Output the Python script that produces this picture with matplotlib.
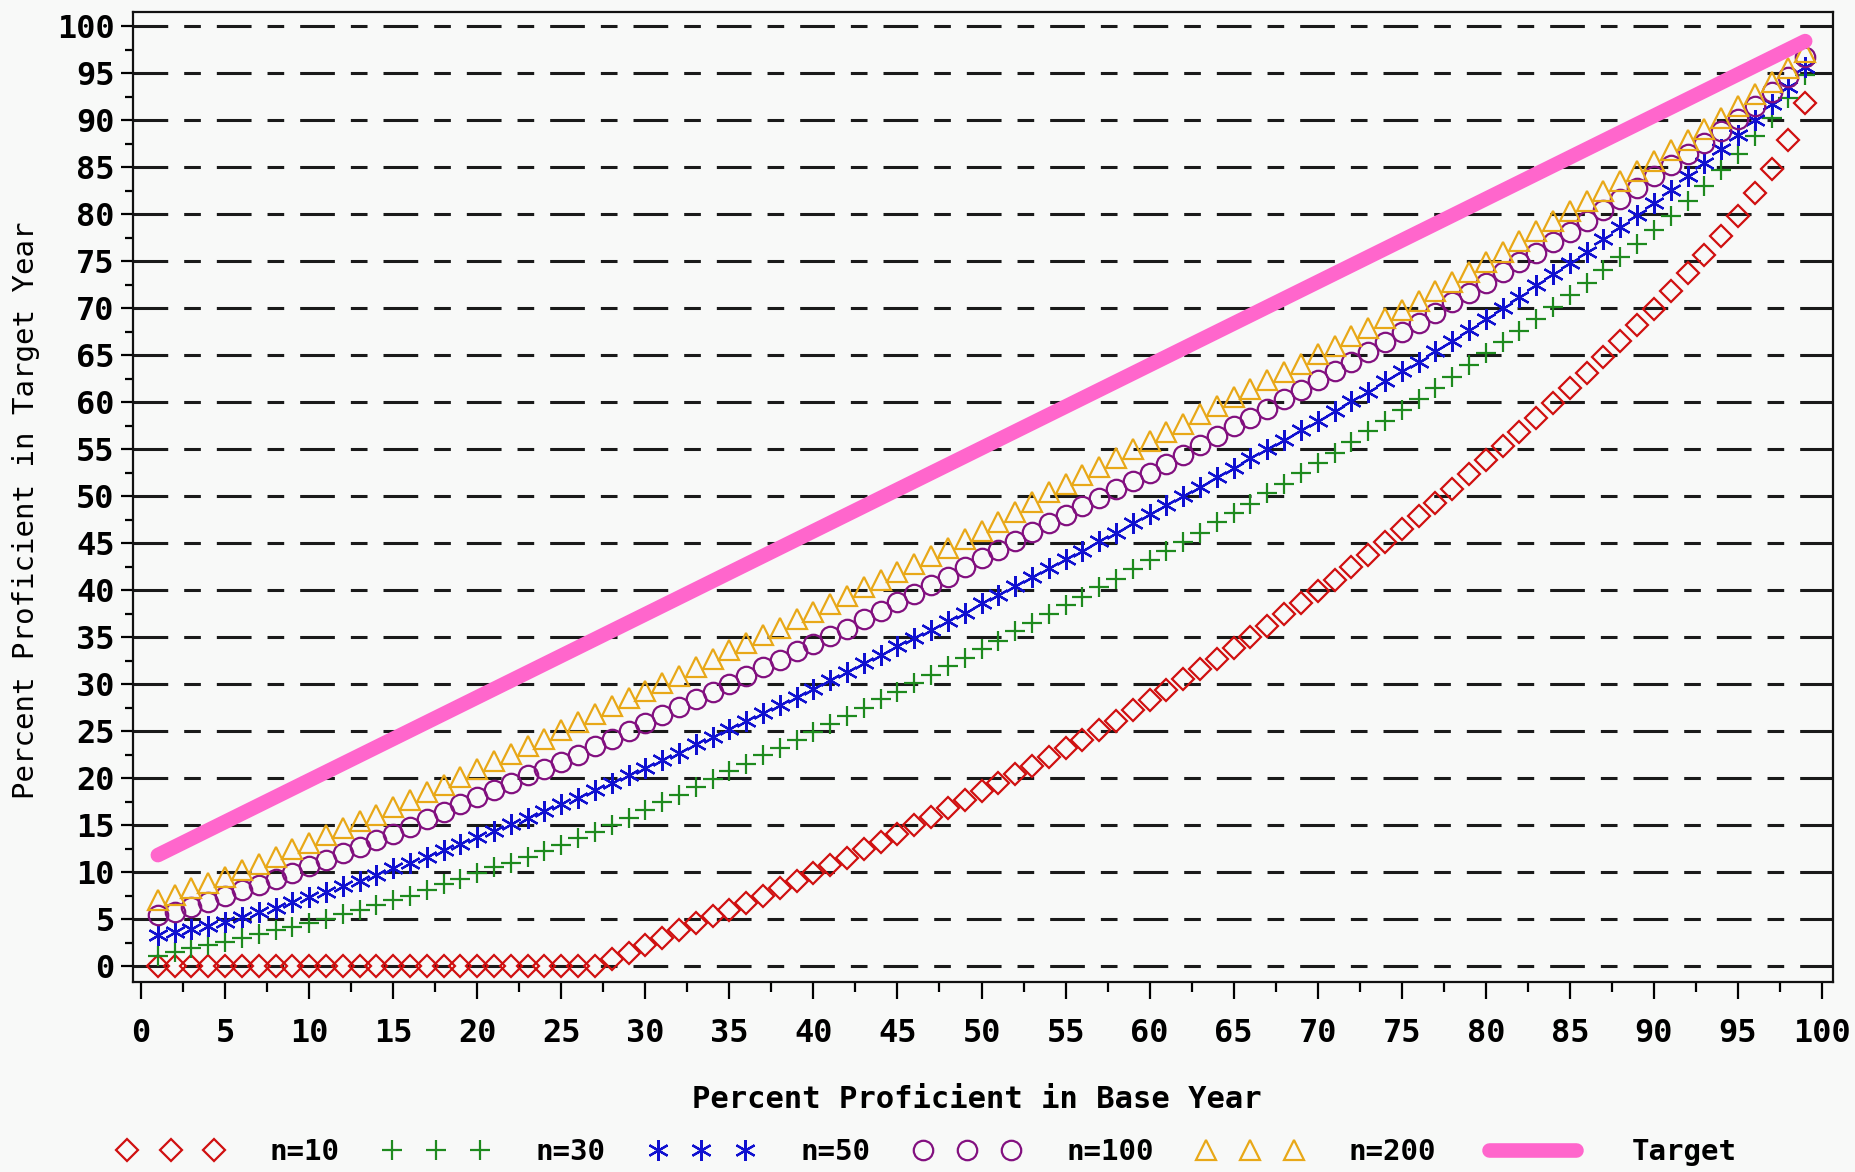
import matplotlib
matplotlib.use('Agg')
import matplotlib.pyplot as plt
from matplotlib.ticker import MultipleLocator

# dashes given in points, not scaled by line width
plt.rcParams['lines.scale_dashes'] = False
plt.rcParams['font.family'] = ['DejaVu Sans Mono', 'DejaVu Sans']

# data (base year percent 1..99)
base_pct = list(range(1, 100))

n10 = [0, 0, 0, 0, 0, 0, 0, 0, 0, 0,
       0, 0, 0, 0, 0, 0, 0, 0, 0, 0,
       0, 0, 0, 0, 0, 0, 0, 0.7, 1.4, 2.2,
       3.0, 3.8, 4.6, 5.3, 6.0, 6.7, 7.5, 8.3, 9.1, 9.9,
       10.7, 11.5, 12.4, 13.2, 14.1, 15.0, 15.9, 16.8, 17.7, 18.6,
       19.5, 20.4, 21.3, 22.2, 23.2, 24.1, 25.1, 26.1, 27.2, 28.3,
       29.4, 30.5, 31.6, 32.7, 33.8, 35.0, 36.2, 37.4, 38.6, 39.9,
       41.1, 42.4, 43.7, 45.1, 46.5, 47.9, 49.3, 50.8, 52.3, 53.8,
       55.3, 56.8, 58.3, 59.9, 61.5, 63.1, 64.8, 66.5, 68.2, 69.9,
       71.8, 73.7, 75.6, 77.7, 79.8, 82.2, 84.8, 87.9, 91.8]

n30 = [1.1, 1.5, 1.9, 2.2, 2.6, 3.0, 3.4, 3.8, 4.2, 4.6,
       5.0, 5.5, 6.0, 6.5, 7.0, 7.5, 8.1, 8.7, 9.3, 9.9,
       10.5, 11.0, 11.6, 12.2, 12.9, 13.6, 14.3, 15.0, 15.8, 16.6,
       17.4, 18.2, 19.0, 19.9, 20.7, 21.5, 22.4, 23.2, 24.1, 24.9,
       25.8, 26.6, 27.5, 28.4, 29.2, 30.1, 31.0, 31.9, 32.8, 33.7,
       34.6, 35.6, 36.5, 37.4, 38.4, 39.3, 40.3, 41.2, 42.2, 43.2,
       44.2, 45.1, 46.1, 47.2, 48.2, 49.2, 50.3, 51.3, 52.4, 53.5,
       54.6, 55.7, 56.9, 58.0, 59.2, 60.3, 61.5, 62.7, 63.9, 65.2,
       66.4, 67.6, 68.8, 70.1, 71.4, 72.7, 74.0, 75.4, 76.8, 78.3,
       79.8, 81.4, 83.0, 84.7, 86.4, 88.3, 90.2, 92.3, 94.8]

n50 = [3.3, 3.6, 3.9, 4.3, 4.7, 5.2, 5.7, 6.2, 6.8, 7.3,
       7.9, 8.5, 9.1, 9.7, 10.4, 11.0, 11.6, 12.3, 13.0, 13.7,
       14.4, 15.1, 15.8, 16.5, 17.2, 17.9, 18.7, 19.5, 20.3, 21.1,
       21.9, 22.7, 23.6, 24.4, 25.2, 26.1, 26.9, 27.8, 28.6, 29.5,
       30.4, 31.3, 32.2, 33.1, 34.0, 34.9, 35.8, 36.7, 37.6, 38.6,
       39.5, 40.4, 41.4, 42.3, 43.3, 44.2, 45.2, 46.1, 47.1, 48.1,
       49.1, 50.0, 51.0, 52.0, 53.0, 54.0, 55.0, 56.0, 57.0, 58.0,
       59.0, 60.1, 61.1, 62.2, 63.3, 64.3, 65.4, 66.5, 67.7, 68.8,
       70.0, 71.2, 72.4, 73.6, 74.8, 76.0, 77.3, 78.6, 79.9, 81.2,
       82.6, 84.0, 85.4, 86.9, 88.4, 90.0, 91.7, 93.5, 95.6]

n100 = [5.4, 5.8, 6.3, 6.8, 7.5, 8.1, 8.6, 9.3, 9.9, 10.6,
        11.3, 12.0, 12.7, 13.4, 14.1, 14.8, 15.6, 16.4, 17.2, 18.0,
        18.7, 19.5, 20.3, 21.0, 21.7, 22.5, 23.4, 24.2, 25.0, 25.9,
        26.7, 27.6, 28.4, 29.2, 30.0, 30.9, 31.8, 32.6, 33.5, 34.3,
        35.1, 35.9, 36.9, 37.8, 38.7, 39.6, 40.5, 41.4, 42.4, 43.4,
        44.3, 45.2, 46.2, 47.1, 48.0, 48.9, 49.8, 50.7, 51.6, 52.5,
        53.4, 54.4, 55.4, 56.4, 57.4, 58.3, 59.3, 60.3, 61.3, 62.3,
        63.3, 64.3, 65.3, 66.4, 67.4, 68.4, 69.5, 70.6, 71.6, 72.7,
        73.8, 74.9, 75.9, 77.0, 78.1, 79.3, 80.4, 81.6, 82.8, 84.0,
        85.2, 86.4, 87.6, 88.8, 90.1, 91.5, 93.0, 94.6, 96.7]

n200 = [7.0, 7.6, 8.3, 8.8, 9.5, 10.2, 10.9, 11.6, 12.4, 13.1,
        13.9, 14.7, 15.4, 16.1, 16.9, 17.7, 18.5, 19.3, 20.1, 21.0,
        21.8, 22.6, 23.4, 24.2, 25.1, 26.0, 26.8, 27.7, 28.5, 29.3,
        30.1, 30.9, 31.8, 32.7, 33.6, 34.4, 35.2, 36.0, 36.9, 37.7,
        38.5, 39.4, 40.3, 41.1, 41.9, 42.8, 43.6, 44.5, 45.4, 46.3,
        47.2, 48.3, 49.4, 50.4, 51.3, 52.2, 53.1, 54.0, 55.0, 55.9,
        56.8, 57.7, 58.7, 59.6, 60.5, 61.4, 62.3, 63.2, 64.1, 65.1,
        66.0, 67.0, 67.9, 68.9, 69.8, 70.8, 71.8, 72.8, 73.8, 74.9,
        76.0, 77.1, 78.2, 79.3, 80.3, 81.4, 82.4, 83.5, 84.6, 85.6,
        86.8, 87.9, 89.1, 90.2, 91.5, 92.8, 94.1, 95.5, 97.2]

target_x = [1, 99]
target_y = [11.8, 98.4]

bg = '#f8f9f8'
fig = plt.figure(figsize=(18.55, 11.72), dpi=100, facecolor=bg)
ax = fig.add_axes([0.0715, 0.1621, 0.9166, 0.8277], facecolor=bg)

mk = dict(linestyle='none', markerfacecolor='none', markeredgewidth=1.6)
ax.plot(base_pct, n10, marker='D', markersize=11.5, color='#d01010', label='n=10', **mk)
ax.plot(base_pct, n30, marker='+', markersize=15, color='#1e8a1e', label='n=30', **mk)
ax.plot(base_pct, n50, marker=(6, 2, 0), markersize=15, color='#1010d0', label='n=50', **mk)
ax.plot(base_pct, n100, marker='o', markersize=14, color='#82107f', label='n=100', **mk)
ax.plot(base_pct, n200, marker='^', markersize=14, color='#e8a818', label='n=200', **mk)
ax.plot(target_x, target_y, color='#ff66cc', linewidth=10.5, solid_capstyle='round',
        label='Target', zorder=5)

ax.set_xlim(-0.5, 100.65)
ax.set_ylim(-1.7, 101.5)
ax.xaxis.set_major_locator(MultipleLocator(5))
ax.xaxis.set_minor_locator(MultipleLocator(2.5))
ax.yaxis.set_major_locator(MultipleLocator(5))
ax.yaxis.set_minor_locator(MultipleLocator(2.5))

ax.yaxis.grid(True, which='major', color='#1a1a1a', linewidth=2.2,
              linestyle=(0, (25, 11.5, 12, 11.5)))
ax.set_axisbelow(True)

for s in ax.spines.values():
    s.set_linewidth(1.6)
    s.set_color('#111111')

ax.tick_params(axis='x', which='major', length=12, width=1.6, direction='out', pad=14,
               labelsize=23)
ax.tick_params(axis='x', which='minor', length=7, width=1.6, direction='out')
ax.tick_params(axis='y', which='major', length=9, width=1.6, direction='out', pad=4,
               labelsize=23)
ax.tick_params(axis='y', which='minor', length=6, width=1.6, direction='out')
for lab in ax.get_xticklabels() + ax.get_yticklabels():
    lab.set_fontweight('bold')

ax.set_xlabel('Percent Proficient in Base Year', fontsize=22, fontweight='bold', va='center')
ax.xaxis.set_label_coords(0.4966, -0.1216)
ax.set_ylabel('Percent Proficient in Target Year', fontsize=21, va='center')
ax.yaxis.set_label_coords(-0.0627, 0.4866)

fig.legend(loc='center', bbox_to_anchor=(0.500, 0.017), ncol=6, frameon=False,
           numpoints=3, handlelength=3.6, handletextpad=1.6, columnspacing=1.5,
           prop={'family': 'DejaVu Sans Mono', 'weight': 'bold', 'size': 21})

fig.savefig('out.png', dpi=100, facecolor=bg)
